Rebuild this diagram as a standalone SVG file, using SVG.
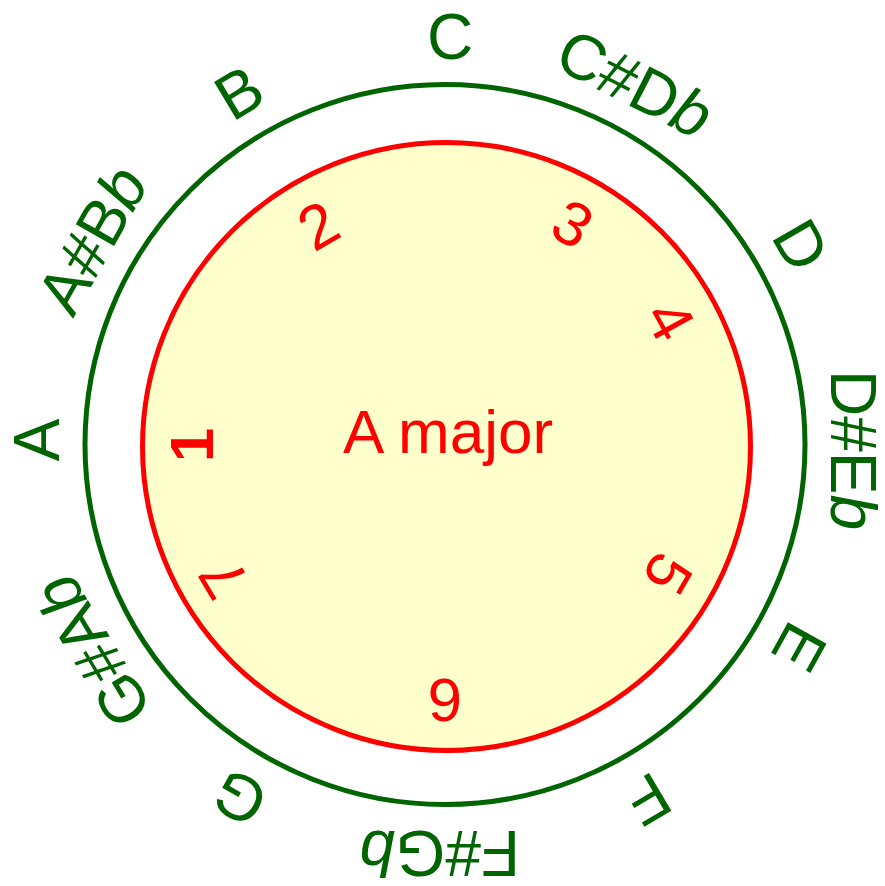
<svg xmlns="http://www.w3.org/2000/svg" width="885" height="886" viewBox="0 0 885 886">
<style>
.note{font-family:"Liberation Sans",Arial,sans-serif;font-size:64px;fill:#006400;text-anchor:middle}
.deg{font-family:"Liberation Sans",Arial,sans-serif;font-size:62px;fill:#ff0000;text-anchor:middle}
.fl{font-style:italic}
</style>
<rect width="885" height="886" fill="#ffffff"/>
<g id="outer"><circle cx="445" cy="444.5" r="360" fill="none" stroke="#006400" stroke-width="5"/></g>
<g id="inner"><circle cx="446.5" cy="446.5" r="304" fill="#ffffcc" stroke="#ff0000" stroke-width="5"/></g>
<g id="notes">
<text class="note" x="450" y="59" transform="rotate(0 445 445)">C</text>
<text class="note" x="450" y="59" transform="rotate(27 445 445)">C#D<tspan class="fl">b</tspan></text>
<text class="note" x="450" y="59" transform="rotate(60 445 445)">D</text>
<text class="note" x="450" y="59" transform="rotate(90 445 445)">D#E<tspan class="fl">b</tspan></text>
<text class="note" x="450" y="59" transform="rotate(119 445 445)">E</text>
<text class="note" x="450" y="59" transform="rotate(149.5 445 445)">F</text>
<text class="note" x="450" y="59" transform="rotate(180 445 445)">F#G<tspan class="fl">b</tspan></text>
<text class="note" x="450" y="59" transform="rotate(209.5 445 445)">G</text>
<text class="note" x="450" y="59" transform="rotate(239 445 445)">G#A<tspan class="fl">b</tspan></text>
<text class="note" x="450" y="59" transform="rotate(270 445 445)">A</text>
<text class="note" x="450" y="59" transform="rotate(299.5 445 445)">A#B<tspan class="fl">b</tspan></text>
<text class="note" x="450" y="59" transform="rotate(329 445 445)">B</text>
</g>
<g id="degrees">
<text class="deg" x="445" y="213" font-weight="bold" transform="rotate(270 445 445)">1</text>
<text class="deg" x="445" y="213" transform="rotate(330 445 445)">2</text>
<text class="deg" x="445" y="211" transform="rotate(30 445 445)">3</text>
<text class="deg" x="445" y="209" transform="rotate(61 445 445)">4</text>
<text class="deg" x="445" y="209" transform="rotate(120 445 445)">5</text>
<text class="deg" x="445" y="211" transform="rotate(180 445 445)">6</text>
<text class="deg" x="445" y="208" transform="rotate(239 445 445)">7</text>
</g>
<g id="title"><text class="deg" x="448" y="453">A major</text></g>
</svg>
